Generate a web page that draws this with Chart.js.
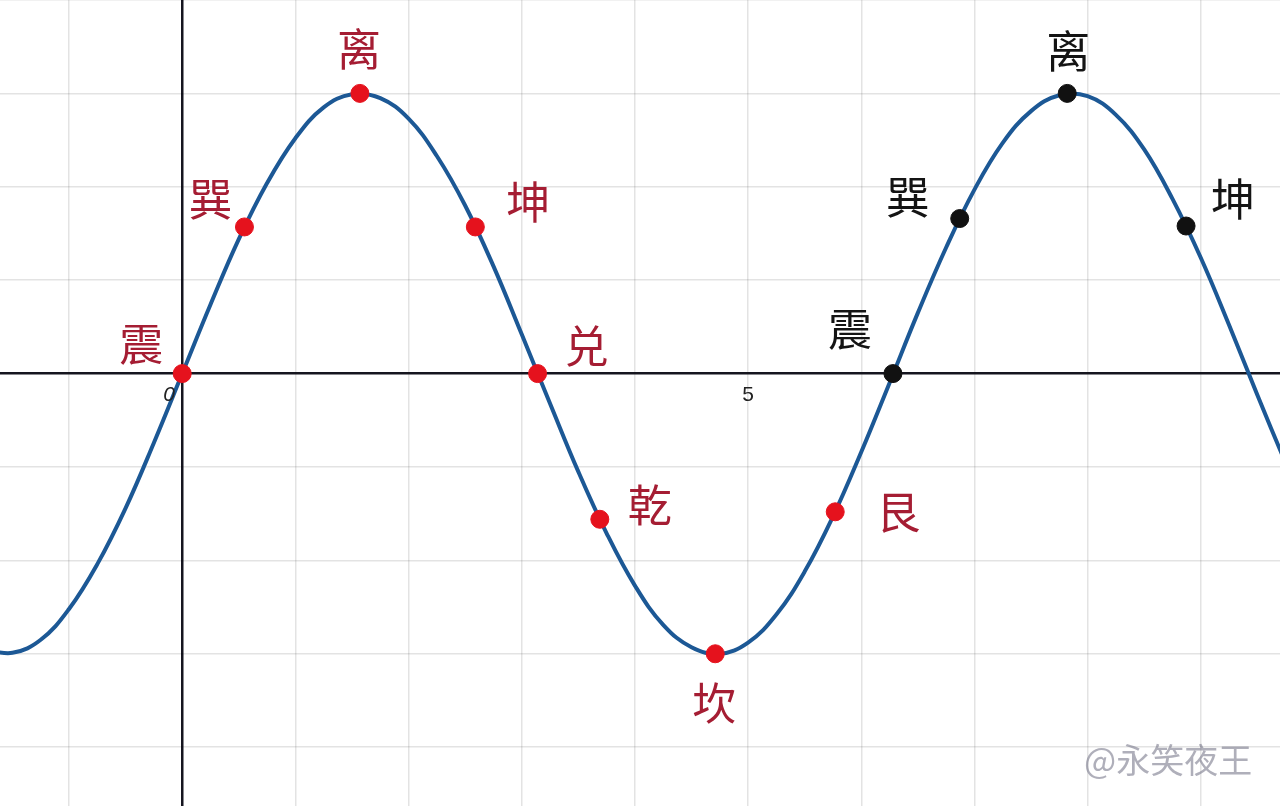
<!DOCTYPE html>
<html>
<head>
<meta charset="utf-8">
<script src="https://cdn.jsdelivr.net/npm/chart.js@4.4.0/dist/chart.umd.min.js"></script>
<style>
  html, body { margin: 0; padding: 0; background: #ffffff; }
  #wrap { width: 1280px; height: 806px; }
</style>
</head>
<body>
<div id="wrap"><canvas id="waveChart"></canvas></div>
<script>
// Curve samples (x in grid units, y in grid units)
const curveX = [-1.75, -1.5, -1.25, -1, -0.75, -0.5, -0.25, 0, 0.25, 0.5, 0.75, 1, 1.25, 1.5, 1.75,
    2, 2.25, 2.5, 2.75, 3, 3.25, 3.5, 3.75, 4, 4.25, 4.5, 4.75, 5, 5.25, 5.5, 5.75,
    6, 6.25, 6.5, 6.75, 7, 7.25, 7.5, 7.75, 8, 8.25, 8.5, 8.75, 9, 9.25, 9.5, 9.75];
const curveY = [-2.95, -2.99, -2.85, -2.52, -2.04, -1.44, -0.74, 0, 0.74, 1.44, 2.04, 2.52, 2.85, 2.99, 2.95,
    2.73, 2.33, 1.80, 1.15, 0.42, -0.32, -1.05, -1.71, -2.27, -2.69, -2.93, -3.00, -2.88, -2.58, -2.12, -1.53,
    -0.84, -0.10, 0.65, 1.35, 1.97, 2.47, 2.81, 2.98, 2.97, 2.77, 2.40, 1.87, 1.24, 0.52, -0.23, -0.96];

// Marked points
const redNames = ['震', '巽', '离', '坤', '兑', '乾', '坎', '艮'];
const redX = [0, 0.55, 1.57, 2.59, 3.14, 3.69, 4.71, 5.77];
const redY = [0, 1.57, 3, 1.57, 0, -1.56, -3, -1.48];

const blackNames = ['震', '巽', '离', '坤'];
const blackX = [6.28, 6.87, 7.82, 8.87];
const blackY = [0, 1.66, 3, 1.58];

// Axis labels
const tickLabels = ['0', '5'];
const tickValues = [0, 5];

// Label offsets in pixels (style only)
const redOffsets = [[-41, -29], [-34, -28], [-1, -44], [53, -25], [49, -27], [50, -14], [-1, 50], [63, 0]];
const blackOffsets = [[-43, -44], [-52, -21], [1, -42], [47, -27]];

const toPoints = (xs, ys) => xs.map((x, i) => ({ x: x, y: ys[i] }));

const labelPlugin = {
    id: 'pointLabels',
    afterDatasetsDraw(chart) {
        const ctx = chart.ctx;
        const xs = chart.scales.x;
        const ys = chart.scales.y;
        ctx.save();
        ctx.textAlign = 'center';
        ctx.textBaseline = 'middle';

        // axis numbers
        ctx.fillStyle = '#222222';
        tickValues.forEach((v, i) => {
            const dx = v === 0 ? -13 : 0;
            ctx.font = (v === 0 ? 'italic ' : '') + '21px "Liberation Sans", Arial, sans-serif';
            ctx.fillText(tickLabels[i], xs.getPixelForValue(v) + dx, ys.getPixelForValue(0) + 22);
        });

        ctx.font = '44px "Noto Sans CJK SC", sans-serif';
        ctx.fillStyle = '#a51d33';
        redNames.forEach((n, i) => {
            ctx.fillText(n, xs.getPixelForValue(redX[i]) + redOffsets[i][0], ys.getPixelForValue(redY[i]) + redOffsets[i][1]);
        });
        ctx.fillStyle = '#141414';
        blackNames.forEach((n, i) => {
            ctx.fillText(n, xs.getPixelForValue(blackX[i]) + blackOffsets[i][0], ys.getPixelForValue(blackY[i]) + blackOffsets[i][1]);
        });

        // watermark
        ctx.font = '34px "Noto Sans CJK SC", sans-serif';
        ctx.textAlign = 'left';
        ctx.fillStyle = 'rgba(110, 110, 130, 0.55)';
        ctx.fillText('@永笑夜王', 1084, 760);
        ctx.restore();
    }
};

const gridColor = c => c.tick && c.tick.value === 0 ? '#15151f' : 'rgba(0, 0, 0, 0.11)';
const gridWidth = c => c.tick && c.tick.value === 0 ? 2.5 : 1.5;

new Chart(document.getElementById('waveChart'), {
    type: 'scatter',
    data: {
        datasets: [
            {
                data: toPoints(curveX, curveY),
                showLine: true,
                borderColor: '#1c5895',
                borderWidth: 4,
                pointRadius: 0,
                tension: 0.4,
                order: 3
            },
            {
                data: toPoints(redX, redY),
                backgroundColor: '#e5121d',
                borderColor: '#e5121d',
                pointRadius: 9,
                order: 1
            },
            {
                data: toPoints(blackX, blackY),
                backgroundColor: '#111111',
                borderColor: '#111111',
                pointRadius: 9,
                order: 2
            }
        ]
    },
    options: {
        responsive: true,
        maintainAspectRatio: false,
        animation: false,
        layout: { padding: 0, autoPadding: false },
        plugins: {
            legend: { display: false },
            tooltip: { enabled: false }
        },
        scales: {
            x: {
                type: 'linear',
                min: -1.61,
                max: 9.70,
                border: { display: false },
                ticks: { display: false, stepSize: 1 },
                grid: { color: gridColor, lineWidth: gridWidth, drawTicks: false },
                afterBuildTicks: axis => { axis.ticks = axis.ticks.filter(t => Number.isInteger(t.value)); }
            },
            y: {
                type: 'linear',
                min: -4.63,
                max: 4.0,
                border: { display: false },
                ticks: { display: false, stepSize: 1 },
                grid: { color: gridColor, lineWidth: gridWidth, drawTicks: false },
                afterBuildTicks: axis => { axis.ticks = axis.ticks.filter(t => Number.isInteger(t.value)); }
            }
        }
    },
    plugins: [labelPlugin]
});
</script>
</body>
</html>
